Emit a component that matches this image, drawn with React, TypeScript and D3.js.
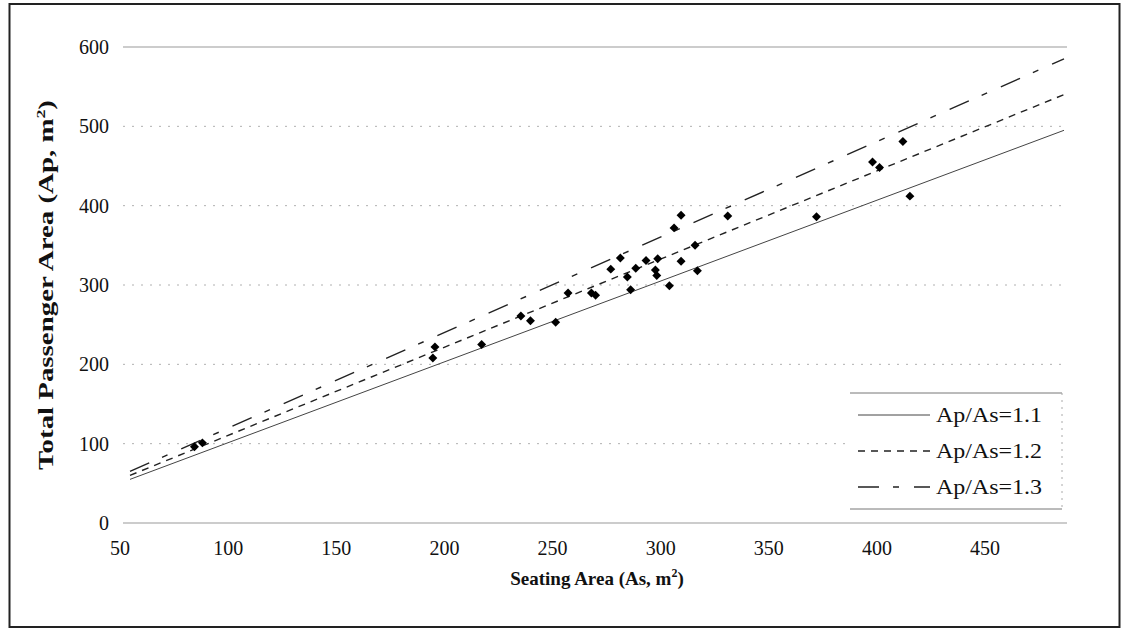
import React from "react";
import * as d3 from "d3";

const X_TICKS = [50, 100, 150, 200, 250, 300, 350, 400, 450];
const Y_TICKS = [0, 100, 200, 300, 400, 500, 600];

const seatingArea = [77.6, 81, 179.7, 180.6, 200.6, 217.4, 221.5, 232.3, 237.6, 247.6, 249.4, 255.9, 260, 263, 264.4, 266.6, 271, 275, 275.6, 276, 281, 283, 286, 286, 292, 293, 306, 344, 368, 371, 381, 384];
const passengerArea = [96, 101, 208, 222, 225, 261, 255, 253, 290, 290, 287, 320, 334, 310, 294, 321, 331, 319, 312, 333, 299, 372, 388, 330, 350, 318, 387, 386, 455, 448, 481, 412];

const ratioLabels = ["Ap/As=1.1", "Ap/As=1.2", "Ap/As=1.3"];
const ratioValues = [1.1, 1.2, 1.3];
const lineDomain = [50, 450];
const dashes = [null, "7 6", "21 14 6 15"];

const FONT = "'Liberation Serif', 'Times New Roman', serif";

const squareDiamond = {
  draw(ctx: any, size: number) {
    const r = Math.sqrt(size / 2);
    ctx.moveTo(0, -r);
    ctx.lineTo(r, 0);
    ctx.lineTo(0, r);
    ctx.lineTo(-r, 0);
    ctx.closePath();
  },
};

export default function App() {
  const W = 1123, H = 632;
  const x = d3.scaleLinear().domain([50, 450]).range([130, 1064]);
  // tick labels in the source are set on a slightly narrower band than the plot
  const xLabel = d3.scaleLinear().domain([50, 450]).range([120, 985]);
  const y = d3.scaleLinear().domain([0, 600]).range([523, 47]);
  const points = seatingArea.map((s, i) => ({ s, p: passengerArea[i] }));
  const diamond = d3.symbol().type(squareDiamond as any).size(40)();

  const legX = 850, legTop = 393, legBot = 509, legRight = 1062;
  const rowY = [415, 451, 487];

  return (
    <svg width={W} height={H} style={{ position: "absolute", left: 0, top: 0, background: "#fff" }} fontFamily={FONT}>
      <rect x={0} y={0} width={W} height={H} fill="#fff" />
      {Y_TICKS.map((t) => (
        <line key={t} x1={123} x2={1067} y1={y(t)} y2={y(t)}
          stroke={t === 0 || t === 600 ? "#999" : "#b0b0b0"}
          strokeWidth={1}
          strokeDasharray={t === 0 || t === 600 ? undefined : "2 7"} />
      ))}
      {Y_TICKS.map((t) => (
        <text key={t} x={109} y={y(t)} dy="0.35em" textAnchor="end" fontSize={20} fill="#111">{t}</text>
      ))}
      {X_TICKS.map((t) => (
        <text key={t} x={xLabel(t)} y={548} dy="0.35em" textAnchor="middle" fontSize={20} fill="#111">{t}</text>
      ))}
      {ratioValues.map((r, i) => {
        const ln = d3.line<number>().x((d) => x(d)).y((d) => y(d * r));
        return (
          <path key={r} d={ln(lineDomain) || ""}
            fill="none" stroke={i === 0 ? "#444" : "#222"} strokeWidth={i === 0 ? 1 : 1.4}
            strokeDasharray={dashes[i] || undefined} />
        );
      })}
      {points.map((d, i) => (
        <path key={i} d={diamond || ""} transform={`translate(${x(d.s)},${y(d.p)})`} fill="#000" />
      ))}
      <rect x={legX} y={legTop} width={legRight - legX} height={legBot - legTop} fill="#fff" />
      <line x1={legX} x2={legRight} y1={legTop} y2={legTop} stroke="#777" />
      <line x1={legX} x2={legRight} y1={legBot} y2={legBot} stroke="#777" />
      <line x1={legRight} x2={legRight} y1={legTop} y2={legBot} stroke="#aaa" strokeDasharray="2 5" />
      {ratioLabels.map((lab, i) => (
        <g key={lab}>
          <line x1={858} x2={930} y1={rowY[i]} y2={rowY[i]} stroke={i === 0 ? "#444" : "#222"}
            strokeWidth={i === 0 ? 1 : 1.4} strokeDasharray={dashes[i] || undefined} />
          <text x={936} y={rowY[i]} dy="0.35em" fontSize={21} fill="#111"
            textLength={106} lengthAdjust="spacingAndGlyphs">{lab}</text>
        </g>
      ))}
      <text x={597} y={585} textAnchor="middle" fontSize={19} fontWeight="bold" fill="#111">
        Seating Area (As, m<tspan dy="-8" fontSize={12}>2</tspan><tspan dy="8">)</tspan>
      </text>
      <text transform="translate(53,285) rotate(-90)" textAnchor="middle" fontSize={21} fontWeight="bold" fill="#111"
        textLength={370} lengthAdjust="spacingAndGlyphs">
        Total Passenger Area (Ap, m<tspan dy="-8" fontSize={13}>2</tspan><tspan dy="8">)</tspan>
      </text>
      <rect x={9.5} y={4} width={1110} height={623} fill="none" stroke="#222" strokeWidth={2} />
    </svg>
  );
}
